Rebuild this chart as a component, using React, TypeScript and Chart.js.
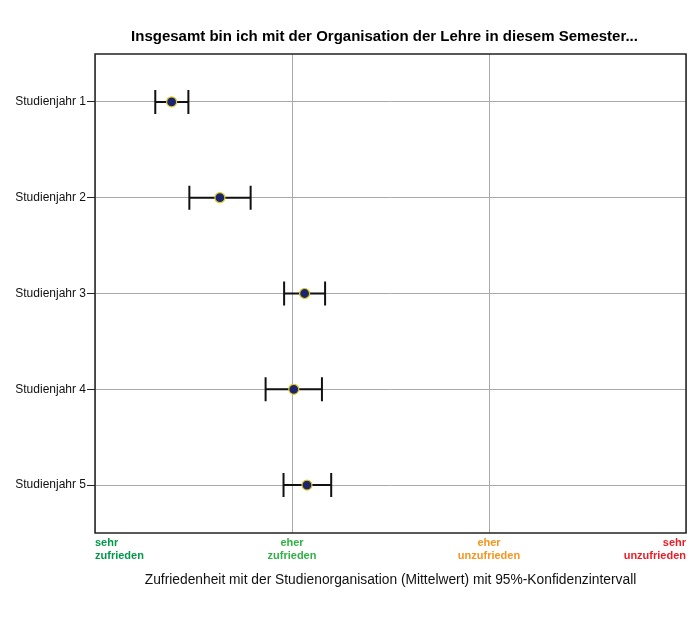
import React, { useEffect, useRef } from "react";
import { Chart, registerables } from "chart.js";

Chart.register(...registerables);

const titleText = "Insgesamt bin ich mit der Organisation der Lehre in diesem Semester...";
const axisTitle = "Zufriedenheit mit der Studienorganisation (Mittelwert) mit 95%-Konfidenzintervall";
const categories = ["Studienjahr 1", "Studienjahr 2", "Studienjahr 3", "Studienjahr 4", "Studienjahr 5"];
const means = [1.389, 1.634, 2.064, 2.009, 2.076];
const lower = [1.306, 1.479, 1.96, 1.866, 1.957];
const upper = [1.474, 1.79, 2.168, 2.152, 2.199];
const tickValues = [1, 2, 3, 4];
const tickLabels: string[][] = [
  ["sehr", "zufrieden"],
  ["eher", "zufrieden"],
  ["eher", "unzufrieden"],
  ["sehr", "unzufrieden"],
];
const tickColors = ["#00994a", "#2fb344", "#f7941d", "#ee1c25"];

const FONT = "'Liberation Sans', Arial, sans-serif";

const errorBars = {
  id: "errorBars",
  beforeDatasetsDraw(chart: any) {
    const xs = chart.scales.x;
    const ys = chart.scales.y;
    const ctx = chart.ctx;
    ctx.save();
    ctx.strokeStyle = "#111111";
    ctx.lineWidth = 2;
    for (let i = 0; i < categories.length; i++) {
      const y = ys.getPixelForValue(i);
      const x1 = xs.getPixelForValue(lower[i]);
      const x2 = xs.getPixelForValue(upper[i]);
      ctx.beginPath();
      ctx.moveTo(x1, y);
      ctx.lineTo(x2, y);
      ctx.moveTo(x1, y - 12);
      ctx.lineTo(x1, y + 12);
      ctx.moveTo(x2, y - 12);
      ctx.lineTo(x2, y + 12);
      ctx.stroke();
    }
    ctx.restore();
  },
};

const frame = {
  id: "frame",
  afterDraw(chart: any) {
    const { left, right, top, width, height } = chart.chartArea;
    const ctx = chart.ctx;
    ctx.save();
    ctx.strokeStyle = "#222222";
    ctx.lineWidth = 1.5;
    ctx.strokeRect(left, top, width, height);
    ctx.fillStyle = "#000000";
    ctx.font = `bold 15px ${FONT}`;
    ctx.textAlign = "center";
    ctx.textBaseline = "middle";
    ctx.fillText(titleText, (left + right) / 2 - 6, 37);
    ctx.restore();
  },
};

export default function App() {
  const ref = useRef<HTMLCanvasElement | null>(null);
  useEffect(() => {
    if (!ref.current) return;
    const chart = new Chart(ref.current, {
      type: "scatter",
      data: {
        labels: categories,
        datasets: [
          {
            data: means.map((m, i) => ({ x: m, y: categories[i] })) as any,
            pointRadius: 5,
            pointHoverRadius: 5,
            backgroundColor: "#1c2470",
            borderColor: "#e0cc20",
            borderWidth: 1.2,
          },
        ],
      },
      plugins: [errorBars, frame],
      options: {
        animation: false,
        responsive: false,
        maintainAspectRatio: false,
        layout: { padding: { left: 0, right: 14, top: 54, bottom: 0 } },
        plugins: {
          legend: { display: false },
          tooltip: { enabled: false },
          title: { display: false },
        },
        scales: {
          x: {
            type: "linear",
            min: 1,
            max: 4,
            afterFit: (s: any) => {
              s.height = 96;
            },
            afterBuildTicks: (s: any) => {
              s.ticks = tickValues.map((v) => ({ value: v }));
            },
            ticks: {
              align: "inner",
              maxRotation: 0,
              autoSkip: false,
              padding: 3,
              font: { family: FONT, size: 11, weight: "bold", lineHeight: 1.2 },
              color: (c: any) => tickColors[c.index] ?? "#000",
              callback: (v: any) => {
                const i = tickValues.indexOf(Number(v));
                return i >= 0 ? tickLabels[i] : "";
              },
            },
            grid: { color: "#aaaaaa", lineWidth: 1, drawTicks: false },
            border: { display: false },
            title: {
              display: true,
              text: axisTitle,
              color: "#111111",
              font: { family: FONT, size: 13.8 },
              padding: { top: 41, bottom: 41 },
            },
          },
          y: {
            type: "category",
            labels: categories,
            offset: true,
            afterFit: (s: any) => {
              s.width = 95;
            },
            ticks: {
              color: "#111111",
              padding: 1,
              font: { family: FONT, size: 12 },
            },
            grid: {
              offset: false,
              color: "#aaaaaa",
              tickColor: "#222222",
              tickLength: 8,
              lineWidth: 1,
            },
            border: { display: false },
          },
        },
      },
    });
    return () => chart.destroy();
  }, []);
  return (
    <div style={{ position: "absolute", left: 0, top: 0, width: 700, height: 629, background: "#fff" }}>
      <canvas ref={ref} width={700} height={629} style={{ width: 700, height: 629 }} />
    </div>
  );
}
